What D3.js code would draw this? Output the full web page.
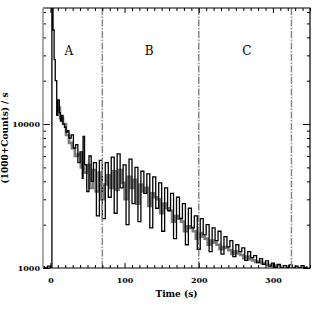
<!DOCTYPE html>
<html>
<head>
<meta charset="utf-8">
<script src="https://cdn.jsdelivr.net/npm/d3@7"></script>
<style>
  body { margin: 0; background: #fff; }
  svg { display: block; }
  text { font-family: "DejaVu Serif", "Liberation Serif", serif; fill: #000; }
</style>
</head>
<body>
<main></main>
<script>
// light curve, black series (step bins start at these times, s)
const blackTime = [-12, -8, -4, 0, 2, 3.5, 5, 6.5, 8.5, 10, 12, 13.5, 15, 17, 19, 21, 23, 25, 28, 31,
  34, 37, 40, 43, 44, 46, 49, 52, 55, 58, 62, 66,
  70, 74, 78, 82, 86, 90, 94, 98, 102, 106, 110, 114, 118, 122, 126, 130, 134, 138, 142, 146,
  150, 154, 158, 162, 166, 170, 174, 178, 182, 186, 190, 194, 198, 202, 206, 210, 214, 218, 222, 226,
  230, 234, 238, 242, 246, 250, 254, 258, 262, 266, 270, 274, 278, 282, 286, 290, 294, 298, 302, 306,
  310, 314, 318, 322, 326, 330, 334, 338, 342, 346];
const blackRate = [1020, 1000, 1030, 1010, 90000, 45000, 28000, 20000, 11500, 14700, 12000, 10500, 11500, 10000, 9500, 8800, 9000, 8000, 8400, 6800,
  7200, 5400, 6400, 4200, 8200, 5200, 3400, 6000, 4000, 5400, 2300, 5600,
  2200, 5400, 3100, 5900, 2400, 6200, 3600, 5200, 2000, 5700, 2800, 5000, 2100, 4700, 3300, 4500, 1900, 4300, 2600, 3900,
  1800, 3600, 2500, 3300, 1600, 3100, 2200, 2800, 1450, 2600, 1900, 2300, 1350, 2200, 1700, 2000, 1300, 1900, 1550, 1800,
  1250, 1650, 1400, 1550, 1200, 1450, 1300, 1380, 1130, 1300, 1180, 1220, 1090, 1160, 1060, 1120, 1030, 1080, 1010, 1060,
  1000, 1040, 1010, 1050, 1000, 1030, 1000, 1040, 1010, 1030];

// gray series
const grayTime = [9.5, 13, 17, 21, 25, 29, 33, 37, 41, 45, 49, 53, 57, 61, 65, 68,
  72, 76, 80, 84, 88, 92, 96, 100, 104, 108, 112, 116, 120, 124, 128, 132, 136, 140, 144, 148,
  152, 156, 160, 164, 168, 172, 176, 180, 184, 188, 192, 196, 200, 204, 208, 212, 216, 220, 224, 228,
  232, 236, 240, 244, 248, 252, 256, 260, 264, 268, 272, 276, 280, 284, 288, 292, 296, 300, 304, 308];
const grayRate = [13000, 11000, 10000, 8400, 7400, 6800, 6000, 6200, 5000, 4600, 5200, 3600, 4800, 3400, 4600, 3000,
  3800, 4400, 3600, 4700, 3500, 4800, 3900, 3000, 4300, 3600, 4100, 2800, 3800, 3400, 3600, 2700, 3300, 3100, 3000, 2400,
  2800, 2600, 2500, 2100, 2300, 2200, 2100, 1800, 1950, 1900, 1800, 1600, 1750, 1650, 1600, 1450, 1550, 1500, 1450, 1350,
  1400, 1380, 1330, 1250, 1300, 1260, 1230, 1170, 1200, 1150, 1130, 1100, 1110, 1080, 1070, 1050, 1050, 1030, 1040, 1020];

const phaseLines = [70, 200, 325];
const phaseLabels = ["A", "B", "C"];
const phaseLabelTime = [25, 133, 265];

const xMajor = [0, 100, 200, 300];
const yMajor = [1000, 10000];
const yMinor = [2000, 3000, 4000, 5000, 6000, 7000, 8000, 9000, 20000, 30000, 40000, 50000, 60000];

const width = 327, height = 327;
const plot = { left: 43, right: 310, top: 8, bottom: 268 };

const svg = d3.select("main").append("svg")
  .attr("width", width).attr("height", height);

const x = d3.scaleLinear().domain([-10, 350]).range([plot.left, plot.right]);
const y = d3.scaleLog().domain([1000, 64000]).range([plot.bottom, plot.top]);

const xMinor = x.ticks(36).filter(t => t >= 0 && !xMajor.includes(t));

svg.append("clipPath").attr("id", "clip")
  .append("rect")
  .attr("x", plot.left).attr("y", plot.top)
  .attr("width", plot.right - plot.left).attr("height", plot.bottom - plot.top);

const line = d3.line()
  .x(d => x(d[0]))
  .y(d => y(d[1]))
  .curve(d3.curveStepAfter);

const blackData = blackTime.map((t, i) => [t, blackRate[i]]);
const grayData = grayTime.map((t, i) => [t, grayRate[i]]);

const data = svg.append("g").attr("clip-path", "url(#clip)");

data.append("path")
  .datum(grayData)
  .attr("d", line)
  .attr("fill", "none")
  .attr("stroke", "#7a7a7a")
  .attr("stroke-width", 2.6);

data.append("path")
  .datum(blackData)
  .attr("d", line)
  .attr("fill", "none")
  .attr("stroke", "#000")
  .attr("stroke-width", 1.3);

// phase boundaries
svg.selectAll(".phase")
  .data(phaseLines)
  .enter().append("line")
  .attr("x1", d => x(d)).attr("x2", d => x(d))
  .attr("y1", plot.top).attr("y2", plot.bottom)
  .attr("stroke", "#888")
  .attr("stroke-width", 1.5)
  .attr("stroke-dasharray", "7,1.5,1.5,1.5");

svg.selectAll(".plabel")
  .data(phaseLabels)
  .enter().append("text")
  .attr("x", (d, i) => x(phaseLabelTime[i]))
  .attr("y", 55)
  .attr("text-anchor", "middle")
  .attr("font-size", 12)
  .text(d => d);

// axes, ticks pointing inward
function clean(g) {
  g.select(".domain").remove();
  g.selectAll("line").attr("stroke", "#000");
  g.selectAll("text").attr("font-size", 8).attr("font-weight", "bold");
}

svg.append("g").attr("transform", `translate(0,${plot.bottom})`)
  .call(d3.axisBottom(x).tickValues(xMajor).tickSize(-5).tickPadding(9).tickFormat(d3.format("d")))
  .call(clean);
svg.append("g").attr("transform", `translate(0,${plot.bottom})`)
  .call(d3.axisBottom(x).tickValues(xMinor).tickSize(-3).tickFormat(""))
  .call(clean);
svg.append("g").attr("transform", `translate(0,${plot.top})`)
  .call(d3.axisTop(x).tickValues(xMajor).tickSize(-5).tickFormat(""))
  .call(clean);
svg.append("g").attr("transform", `translate(0,${plot.top})`)
  .call(d3.axisTop(x).tickValues(xMinor).tickSize(-3).tickFormat(""))
  .call(clean);

svg.append("g").attr("transform", `translate(${plot.left},0)`)
  .call(d3.axisLeft(y).tickValues(yMajor).tickSize(-7).tickPadding(3).tickFormat(d3.format("d")))
  .call(clean);
svg.append("g").attr("transform", `translate(${plot.left},0)`)
  .call(d3.axisLeft(y).tickValues(yMinor).tickSize(-3).tickFormat(""))
  .call(clean);
svg.append("g").attr("transform", `translate(${plot.right},0)`)
  .call(d3.axisRight(y).tickValues(yMajor).tickSize(-7).tickFormat(""))
  .call(clean);
svg.append("g").attr("transform", `translate(${plot.right},0)`)
  .call(d3.axisRight(y).tickValues(yMinor).tickSize(-3).tickFormat(""))
  .call(clean);

// box
svg.append("path")
  .attr("d", `M${plot.left},${plot.top}H${plot.right}V${plot.bottom}H${plot.left}`)
  .attr("fill", "none").attr("stroke", "#000").attr("stroke-width", 1.2);
svg.append("line")
  .attr("x1", plot.left).attr("x2", plot.left)
  .attr("y1", plot.top).attr("y2", plot.bottom)
  .attr("stroke", "#888").attr("stroke-width", 1.4);

// titles
svg.append("text")
  .attr("x", (plot.left + plot.right) / 2)
  .attr("y", 297)
  .attr("text-anchor", "middle")
  .attr("font-size", 9)
  .attr("font-weight", "bold")
  .text("Time (s)");

svg.append("text")
  .attr("transform", `translate(8,${(plot.top + plot.bottom) / 2}) rotate(-90)`)
  .attr("text-anchor", "middle")
  .attr("font-size", 9)
  .attr("font-weight", "bold")
  .text("(1000+Counts) / s");
</script>
</body>
</html>
